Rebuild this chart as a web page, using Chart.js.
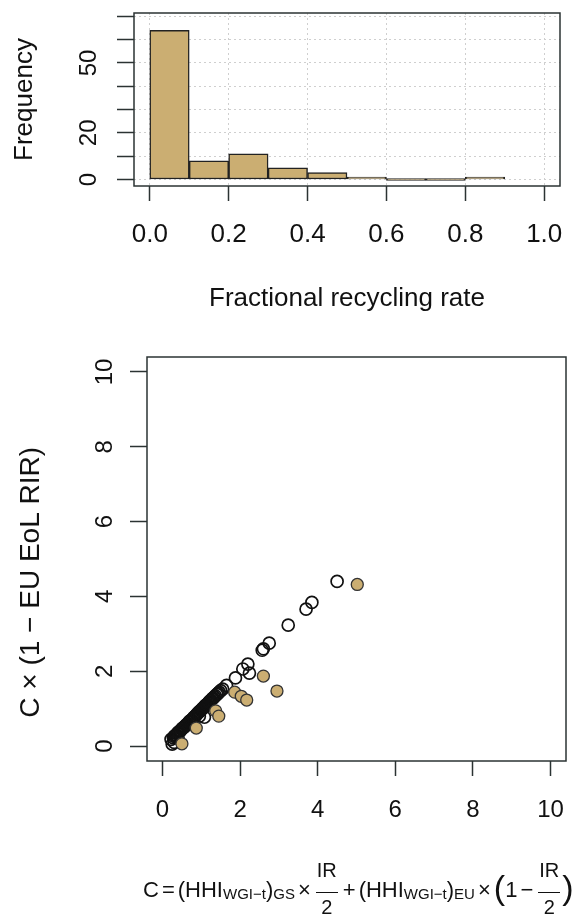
<!DOCTYPE html>
<html>
<head>
<meta charset="utf-8">
<script src="https://cdn.jsdelivr.net/npm/chart.js@4"></script>
<style>
  body { margin: 0; background: #fff; width: 574px; height: 916px; position: relative; overflow: hidden;
         font-family: "Liberation Sans", Arial, sans-serif; color: #111; }
  #histBox { position: absolute; left: 0; top: 0; width: 574px; height: 330px; }
  #scatterBox { position: absolute; left: 0; top: 330px; width: 574px; height: 586px; }
  #formula { position: absolute; left: 143px; top: 860px; font-size: 22px; line-height: 1; white-space: nowrap; }
  #formula sub { font-size: 15px; vertical-align: -2px; line-height: 0; }
  .op { margin: 0 3px; }
  .frac { display: inline-block; vertical-align: -17px; text-align: center; font-size: 20px; line-height: 20px; margin: 0 2px; }
  .frac span { display: block; padding: 0 1px; }
  .frac span:first-child { border-bottom: 1.5px solid #111; padding-bottom: 12px; }
  .frac span:last-child { padding-top: 4px; }
  .big { font-size: 34px; line-height: 0; vertical-align: -2px; }
</style>
</head>
<body>
<div id="histBox"><canvas id="histChart"></canvas></div>
<div id="scatterBox"><canvas id="scatterChart"></canvas></div>
<div id="formula">C<span class="op">=</span>(HHI<sub>WGI−t</sub>)<sub>GS</sub><span class="op">×</span><span class="frac"><span>IR</span><span>2</span></span><span class="op">+</span>(HHI<sub>WGI−t</sub>)<sub>EU</sub><span class="op">×</span><span class="big">(</span>1<span class="op">−</span><span class="frac"><span>IR</span><span>2</span></span><span class="big">)</span></div>
<script>
// histogram bins (left edges, width 0.1) and counts
const binStarts = [0.0, 0.1, 0.2, 0.3, 0.4, 0.5, 0.6, 0.7, 0.8];
const binCounts = [64, 8, 11, 5, 3, 1, 0, 0, 1];
const rateTicks = [0, 0.2, 0.4, 0.6, 0.8, 1.0];
const freqTicks = [0, 10, 20, 30, 40, 50, 60, 70];
const freqLabelled = [0, 20, 50];

// scatter: open circles
const openX = [4.50, 3.85, 3.70, 3.24, 2.75, 2.60, 2.57, 2.20, 2.07, 2.24, 1.88, 1.65,
  0.22, 0.25, 0.28, 0.30, 0.33, 0.35, 0.38, 0.40, 0.42, 0.45, 0.47, 0.50, 0.52, 0.55, 0.57,
  0.60, 0.62, 0.65, 0.68, 0.70, 0.72, 0.75, 0.78, 0.80, 0.83, 0.85, 0.88, 0.90, 0.93, 0.95,
  0.98, 1.00, 1.03, 1.05, 1.08, 1.10, 1.13, 1.15, 1.18, 1.20, 1.23, 1.25, 1.28, 1.30, 1.33,
  1.36, 1.40, 1.43, 1.46, 1.50, 1.55, 1.08, 0.95, 0.40, 0.30];
const openY = [4.40, 3.84, 3.66, 3.23, 2.75, 2.60, 2.56, 2.19, 2.06, 1.95, 1.82, 1.62,
  0.18, 0.05, 0.22, 0.26, 0.28, 0.30, 0.33, 0.36, 0.38, 0.40, 0.42, 0.46, 0.48, 0.50, 0.52,
  0.55, 0.57, 0.60, 0.64, 0.66, 0.68, 0.70, 0.73, 0.76, 0.79, 0.81, 0.84, 0.87, 0.90, 0.92,
  0.95, 0.97, 1.00, 1.02, 1.05, 1.08, 1.10, 1.12, 1.15, 1.18, 1.21, 1.23, 1.26, 1.28, 1.31,
  1.34, 1.38, 1.41, 1.44, 1.48, 1.52, 0.77, 0.80, 0.22, 0.10];

// scatter: filled circles
const filledX = [0.50, 0.87, 1.37, 1.45, 1.86, 2.03, 2.17, 2.60, 2.95, 5.02];
const filledY = [0.06, 0.48, 0.94, 0.80, 1.44, 1.33, 1.23, 1.87, 1.47, 4.32];

const axisTicks = [0, 2, 4, 6, 8, 10];

const tan = '#CBAE72';
const ink = '#2b3333';

Chart.defaults.font.family = '"Liberation Sans", Arial, sans-serif';
Chart.defaults.font.size = 24;
Chart.defaults.color = '#111';

// box around the plotting region
const frame = {
  id: 'frame',
  afterDraw(chart) {
    const { ctx, chartArea: a } = chart;
    ctx.save();
    ctx.strokeStyle = ink;
    ctx.lineWidth = 1.5;
    ctx.strokeRect(a.left, a.top, a.right - a.left, a.bottom - a.top);
    ctx.restore();
  }
};

const setTicks = values => scale => { scale.ticks = values.map(v => ({ value: v })); };
// fixed axis size, no extra room reserved for overhanging labels
const fixWidth = w => s => { s.width = w; s.paddingTop = 0; s.paddingBottom = 0; };
const fixHeight = h => s => { s.height = h; s.paddingLeft = 0; s.paddingRight = 0; };

new Chart(document.getElementById('histChart'), {
  type: 'bar',
  data: {
    datasets: [{
      data: binStarts.map((b, i) => ({ x: b + 0.05, y: binCounts[i] })),
      backgroundColor: tan,
      borderColor: '#222',
      borderWidth: 1.5,
      borderSkipped: false,
      minBarLength: 2,
      barPercentage: 1,
      categoryPercentage: 1
    }]
  },
  options: {
    responsive: true,
    maintainAspectRatio: false,
    animation: false,
    layout: { padding: { top: 13, right: 14, left: 0, bottom: 0 } },
    plugins: { legend: { display: false }, tooltip: { enabled: false } },
    scales: {
      x: {
        type: 'linear', min: -0.04, max: 1.04, offset: false,
        afterBuildTicks: setTicks(rateTicks),
        afterFit: fixHeight(144),
        grid: { offset: false, color: '#cfcfcf', lineWidth: 1, tickLength: 15, tickColor: ink, tickWidth: 1.5 },
        border: { display: false, dash: [2, 3] },
        ticks: { font: { size: 26 }, padding: 18, maxRotation: 0, autoSkip: false, callback: v => v.toFixed(1) },
        title: { display: true, text: 'Fractional recycling rate', font: { size: 26 }, padding: { top: 0, bottom: 16 } }
      },
      y: {
        min: -2.8, max: 71.4,
        afterBuildTicks: setTicks(freqTicks),
        afterFit: fixWidth(134),
        grid: { color: '#cfcfcf', lineWidth: 1, tickLength: 17, tickColor: ink, tickWidth: 1.5 },
        border: { display: false, dash: [2, 3] },
        ticks: { padding: 14, minRotation: 90, maxRotation: 90, crossAlign: 'center', autoSkip: false,
                 callback: v => freqLabelled.includes(v) ? String(v) : '' },
        title: { display: true, text: 'Frequency', font: { size: 26 }, padding: { top: 9, bottom: 0 } }
      }
    }
  },
  plugins: [frame]
});

const toPoints = (xs, ys) => xs.map((x, i) => ({ x, y: ys[i] }));

new Chart(document.getElementById('scatterChart'), {
  type: 'scatter',
  data: {
    datasets: [{
      data: toPoints(filledX, filledY),
      pointRadius: 6,
      pointBackgroundColor: tan,
      pointBorderColor: '#333',
      pointBorderWidth: 1.3
    }, {
      data: toPoints(openX, openY),
      pointRadius: 6,
      pointBackgroundColor: 'rgba(0,0,0,0)',
      pointBorderColor: '#111',
      pointBorderWidth: 1.7
    }]
  },
  options: {
    responsive: true,
    maintainAspectRatio: false,
    animation: false,
    layout: { padding: { top: 27, right: 8, left: 0, bottom: 0 } },
    plugins: { legend: { display: false }, tooltip: { enabled: false } },
    scales: {
      x: {
        type: 'linear', min: -0.4, max: 10.4,
        afterBuildTicks: setTicks(axisTicks),
        afterFit: fixHeight(155),
        grid: { drawOnChartArea: false, tickLength: 15, tickColor: ink, tickWidth: 1.5 },
        border: { display: false },
        ticks: { padding: 20, maxRotation: 0, autoSkip: false }
      },
      y: {
        min: -0.4, max: 10.4,
        afterBuildTicks: setTicks(axisTicks),
        afterFit: fixWidth(147),
        grid: { drawOnChartArea: false, tickLength: 17, tickColor: ink, tickWidth: 1.5 },
        border: { display: false },
        ticks: { padding: 11, minRotation: 90, maxRotation: 90, crossAlign: 'center', autoSkip: false },
        title: { display: true, text: 'C × (1 − EU EoL RIR)      ', font: { size: 28 }, padding: { top: 14, bottom: 0 } }
      }
    }
  },
  plugins: [frame]
});
</script>
</body>
</html>
